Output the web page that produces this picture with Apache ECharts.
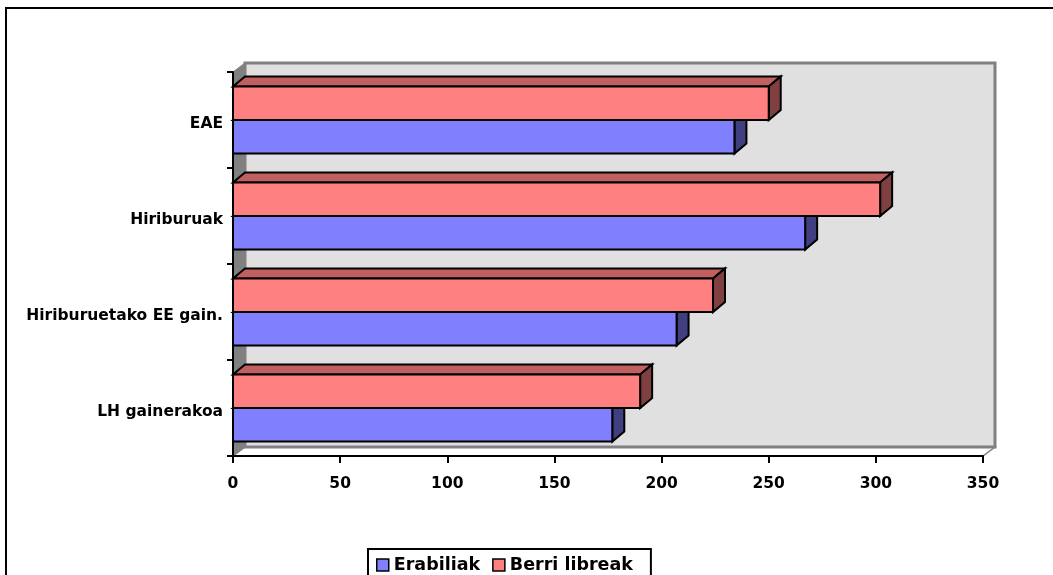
<!DOCTYPE html>
<html>
<head>
<meta charset="utf-8">
<title>Erabiliak / Berri libreak</title>
<script src="https://cdn.jsdelivr.net/npm/echarts@6/dist/echarts.min.js"></script>
<style>
  html, body { margin: 0; padding: 0; background: #ffffff; }
  #chart { width: 1053px; height: 575px; }
</style>
</head>
<body>
<div id="chart"></div>
<script>
// Categories, top to bottom
const categories = ['EAE', 'Hiriburuak', 'Hiriburuetako EE gain.', 'LH gainerakoa'];
// Series values
const erabiliak = [234, 267, 207, 177];
const berriLibreak = [250, 302, 224, 190];
// Value axis scale
const valueMin = 0;
const valueMax = 350;
const valueStep = 50;

const FONT = '"DejaVu Sans", "Liberation Sans", Arial, sans-serif';
// Pseudo-3D depth offset (pixels)
const DX = 12, DY = -9;

const chart = echarts.init(document.getElementById('chart'), null, { renderer: 'canvas' });

function toPairs(values) {
  return values.map(function (v, i) { return [i, v]; });
}

// Draws a 3D-looking bar: front face, top face and right face.
function barRenderer(upper, front, topFace, side) {
  return function (params, api) {
    const cat = api.value(0);
    const val = api.value(1);
    const start = api.coord([0, cat]);
    const end = api.coord([val, cat]);
    const band = api.size([0, 1])[1];
    const h = band * 0.35;
    const top = upper ? start[1] - h : start[1];
    const bot = top + h;
    const x0 = start[0], x1 = end[0];
    const dy = DY - 1;
    const stroke = { stroke: '#000000', lineWidth: 2, lineJoin: 'miter' };
    return {
      type: 'group',
      children: [
        {
          type: 'polygon',
          shape: { points: [[x0, top], [x0 + DX, top + dy], [x1 + DX, top + dy], [x1, top]] },
          style: Object.assign({ fill: topFace }, stroke)
        },
        {
          type: 'polygon',
          shape: { points: [[x1, top], [x1 + DX, top + dy], [x1 + DX, bot + dy], [x1, bot]] },
          style: Object.assign({ fill: side }, stroke)
        },
        {
          type: 'rect',
          shape: { x: x0, y: top, width: x1 - x0, height: h },
          style: Object.assign({ fill: front }, stroke)
        }
      ]
    };
  };
}

// Back wall, side wall and floor of the plot box.
function wallRenderer(params, api) {
  const cs = params.coordSys;
  const x = cs.x, y = cs.y, w = cs.width, h = cs.height;
  return {
    type: 'group',
    children: [
      {
        type: 'polygon',
        shape: { points: [[x, y + h], [x + DX, y + h + DY], [x + w + DX, y + h + DY], [x + w, y + h]] },
        style: { fill: '#ffffff', stroke: '#808080', lineWidth: 1.5 }
      },
      {
        type: 'rect',
        shape: { x: x + DX, y: y + DY, width: w, height: h },
        style: { fill: '#e0e0e0', stroke: '#808080', lineWidth: 3 }
      },
      {
        type: 'polygon',
        shape: { points: [[x, y], [x + DX, y + DY], [x + DX, y + h + DY], [x, y + h]] },
        style: { fill: '#808080', stroke: '#808080', lineWidth: 1 }
      }
    ]
  };
}

const option = {
  animation: false,
  textStyle: { fontFamily: FONT },
  graphic: [
    {
      type: 'rect',
      shape: { x: 6, y: 8, width: 1200, height: 800 },
      style: { fill: 'none', stroke: '#000000', lineWidth: 2 },
      silent: true,
      z: -10
    }
  ],
  grid: { left: 233, right: 70, top: 72, bottom: 119, containLabel: false },
  legend: {
    left: 368,
    top: 549,
    orient: 'horizontal',
    itemWidth: 12,
    itemHeight: 12,
    itemGap: 12,
    padding: [7, 18, 8, 8],
    borderColor: '#000000',
    borderWidth: 2,
    backgroundColor: '#ffffff',
    textStyle: { fontFamily: FONT, fontWeight: 'bold', fontSize: 17.5, color: '#000000' },
    data: [
      { name: 'Erabiliak', icon: 'rect', itemStyle: { color: '#8080ff', borderColor: '#000000', borderWidth: 1.5 } },
      { name: 'Berri libreak', icon: 'rect', itemStyle: { color: '#ff8080', borderColor: '#000000', borderWidth: 1.5 } }
    ]
  },
  xAxis: {
    type: 'value',
    min: valueMin,
    max: valueMax,
    interval: valueStep,
    splitLine: { show: false },
    axisLine: { show: true, lineStyle: { color: '#000000', width: 2 } },
    axisTick: { show: true, length: 7, lineStyle: { color: '#000000', width: 2 } },
    axisLabel: { margin: 20, color: '#000000', fontFamily: FONT, fontWeight: 'bold', fontSize: 15.5 }
  },
  yAxis: {
    type: 'category',
    inverse: true,
    data: categories,
    axisLine: { show: true, lineStyle: { color: '#000000', width: 2 } },
    axisTick: { show: true, length: 6, lineStyle: { color: '#000000', width: 2 } },
    axisLabel: {
      margin: 10,
      color: '#000000',
      formatter: function (v) { return '{l|' + v + '}'; },
      rich: {
        l: { padding: [8, 0, 0, 0], color: '#000000', fontFamily: FONT, fontWeight: 'bold', fontSize: 15.5 }
      }
    }
  },
  series: [
    {
      name: 'walls',
      type: 'custom',
      silent: true,
      z: -1,
      renderItem: wallRenderer,
      data: [[0, 0]],
      encode: { x: 1, y: 0 }
    },
    {
      name: 'Erabiliak',
      type: 'custom',
      itemStyle: { color: '#8080ff' },
      renderItem: barRenderer(false, '#8080ff', '#6060c0', '#404080'),
      data: toPairs(erabiliak),
      encode: { x: 1, y: 0 }
    },
    {
      name: 'Berri libreak',
      type: 'custom',
      itemStyle: { color: '#ff8080' },
      renderItem: barRenderer(true, '#ff8080', '#c06060', '#804040'),
      data: toPairs(berriLibreak),
      encode: { x: 1, y: 0 }
    }
  ]
};

chart.setOption(option);
</script>
</body>
</html>
